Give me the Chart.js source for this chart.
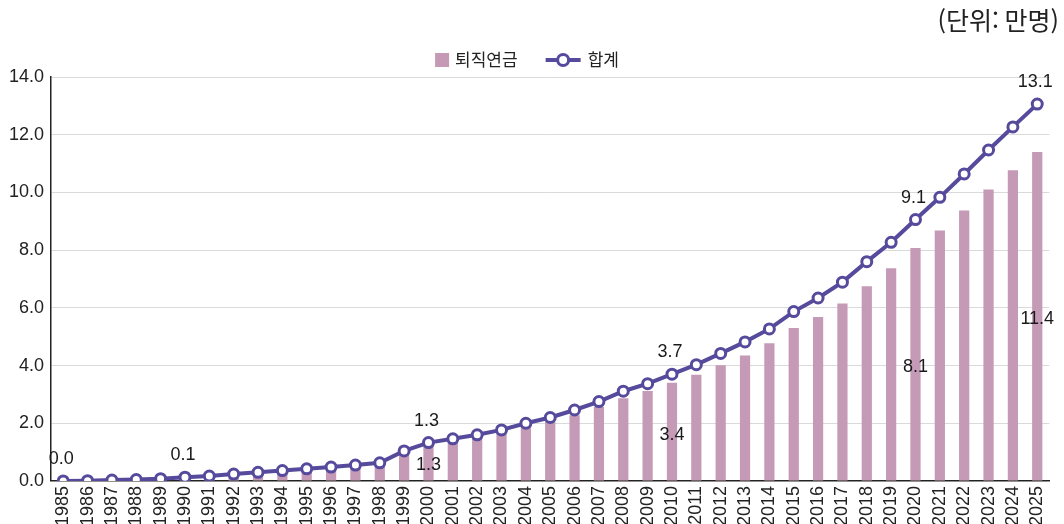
<!DOCTYPE html>
<html lang="ko">
<head>
<meta charset="UTF-8">
<title>퇴직연금 가입자 추이</title>
<script src="https://cdn.jsdelivr.net/npm/chart.js@4.4.1/dist/chart.umd.min.js"></script>
<style>
  html, body { margin: 0; padding: 0; background: #fff; }
  #wrap { width: 1064px; height: 524px; }
</style>
</head>
<body>
<div id="wrap"><canvas id="chart" width="1064" height="524"></canvas></div>
<script>
// categories
const years = [
  '1985', '1986', '1987', '1988', '1989', '1990', '1991', '1992', '1993', '1994',
  '1995', '1996', '1997', '1998', '1999', '2000', '2001', '2002', '2003', '2004',
  '2005', '2006', '2007', '2008', '2009', '2010', '2011', '2012', '2013', '2014',
  '2015', '2016', '2017', '2018', '2019', '2020', '2021', '2022', '2023', '2024',
  '2025'
];

// 퇴직연금 (bars), 만명
const pension = [
  0, 0, 0, 0, 0, 0.02, 0.05, 0.10, 0.20, 0.27,
  0.33, 0.40, 0.46, 0.55, 0.95, 1.30, 1.40, 1.55, 1.72, 1.95,
  2.05, 2.28, 2.56, 2.87, 3.12, 3.40, 3.68, 4.01, 4.35, 4.77,
  5.30, 5.68, 6.15, 6.75, 7.37, 8.07, 8.68, 9.37, 10.10, 10.77,
  11.40
];

// 합계 (line), 만명
const total = [
  0.00, 0.01, 0.03, 0.05, 0.08, 0.13, 0.17, 0.24, 0.30, 0.36,
  0.42, 0.48, 0.55, 0.63, 1.04, 1.33, 1.46, 1.60, 1.77, 2.00,
  2.20, 2.46, 2.75, 3.11, 3.37, 3.70, 4.03, 4.42, 4.82, 5.27,
  5.87, 6.34, 6.89, 7.60, 8.27, 9.06, 9.83, 10.64, 11.47, 12.27,
  13.06
];

// which points get a value label
const totalLabelYears = ['1985', '1990', '2000', '2010', '2020', '2025'];
const pensionLabelYears = ['2000', '2010', '2020', '2025'];

const yMin = 0;
const yMax = 14;
const yStep = 2;

const seriesNames = ['퇴직연금', '합계'];
const unitText = '(단위: 만명)';

const barColor = '#c59ab6';
const lineColor = '#564a9c';
const numFont = '"Liberation Sans", Arial, sans-serif';
const krFont = '"Noto Sans CJK KR", "Noto Sans", sans-serif';

// value labels, unit note and legend drawn on the canvas
const annotations = {
  id: 'annotations',
  afterDatasetsDraw(chart) {
    const ctx = chart.ctx;
    ctx.save();
    ctx.font = '18px ' + numFont;
    ctx.fillStyle = '#1a1a1a';
    ctx.textAlign = 'center';
    ctx.textBaseline = 'middle';

    const barMeta = chart.getDatasetMeta(0);
    pensionLabelYears.forEach((yr) => {
      const i = years.indexOf(yr);
      const el = barMeta.data[i];
      ctx.fillText(pension[i].toFixed(1), el.x, (el.y + el.base) / 2 + 3);
    });

    const lineMeta = chart.getDatasetMeta(1);
    totalLabelYears.forEach((yr) => {
      const i = years.indexOf(yr);
      const pt = lineMeta.data[i];
      ctx.fillText(total[i].toFixed(1), pt.x - 2, pt.y - 22);
    });

    // unit note, top right
    ctx.font = '25px ' + krFont;
    ctx.fillStyle = '#222';
    ctx.textAlign = 'right';
    ctx.fillText(unitText, chart.width - 5, 20);

    // legend: [box] 퇴직연금   [line-o-line] 합계
    ctx.font = '17px ' + krFont;
    ctx.textAlign = 'left';
    const w1 = ctx.measureText(seriesNames[0]).width;
    const w2 = ctx.measureText(seriesNames[1]).width;
    const full = 14 + 6 + w1 + 28 + 35 + 7 + w2;
    let x = 527 - full / 2;
    const cy = 60;
    ctx.fillStyle = barColor;
    ctx.fillRect(x, cy - 7, 14, 14);
    x += 20;
    ctx.fillStyle = '#222';
    ctx.fillText(seriesNames[0], x, cy);
    x += w1 + 28;
    ctx.strokeStyle = lineColor;
    ctx.lineWidth = 4;
    ctx.beginPath(); ctx.moveTo(x, cy); ctx.lineTo(x + 35, cy); ctx.stroke();
    ctx.beginPath(); ctx.arc(x + 17.5, cy, 5.5, 0, Math.PI * 2);
    ctx.fillStyle = '#fff'; ctx.fill();
    ctx.lineWidth = 3; ctx.stroke();
    x += 42;
    ctx.fillStyle = '#222';
    ctx.fillText(seriesNames[1], x, cy);
    ctx.restore();
  }
};

new Chart(document.getElementById('chart'), {
  type: 'bar',
  data: {
    labels: years,
    datasets: [
      {
        type: 'bar',
        label: seriesNames[0],
        data: pension,
        backgroundColor: barColor,
        categoryPercentage: 1,
        barPercentage: 0.42,
        order: 1
      },
      {
        type: 'line',
        label: seriesNames[1],
        data: total,
        borderColor: lineColor,
        borderWidth: 4,
        pointRadius: 5,
        pointBorderWidth: 3,
        pointBackgroundColor: '#fff',
        pointBorderColor: lineColor,
        tension: 0,
        order: 0
      }
    ]
  },
  options: {
    responsive: false,
    animation: false,
    layout: { padding: { top: 77, left: 2, right: 13, bottom: -7 } },
    plugins: {
      tooltip: { enabled: false },
      legend: { display: false }
    },
    scales: {
      x: {
        offset: true,
        grid: { display: false, drawTicks: false },
        border: { display: true, color: '#222', width: 1.5 },
        ticks: {
          autoSkip: false,
          minRotation: 90,
          maxRotation: 90,
          padding: 5,
          color: '#222',
          font: { family: numFont, size: 18 }
        }
      },
      y: {
        min: yMin,
        max: yMax,
        grid: { color: '#dadada', lineWidth: 1, drawTicks: false },
        border: { display: true, color: '#222', width: 1.5 },
        ticks: {
          stepSize: yStep,
          padding: 7,
          color: '#222',
          font: { family: numFont, size: 18 },
          callback: (v) => Number(v).toFixed(1)
        }
      }
    }
  },
  plugins: [annotations]
});
</script>
</body>
</html>
